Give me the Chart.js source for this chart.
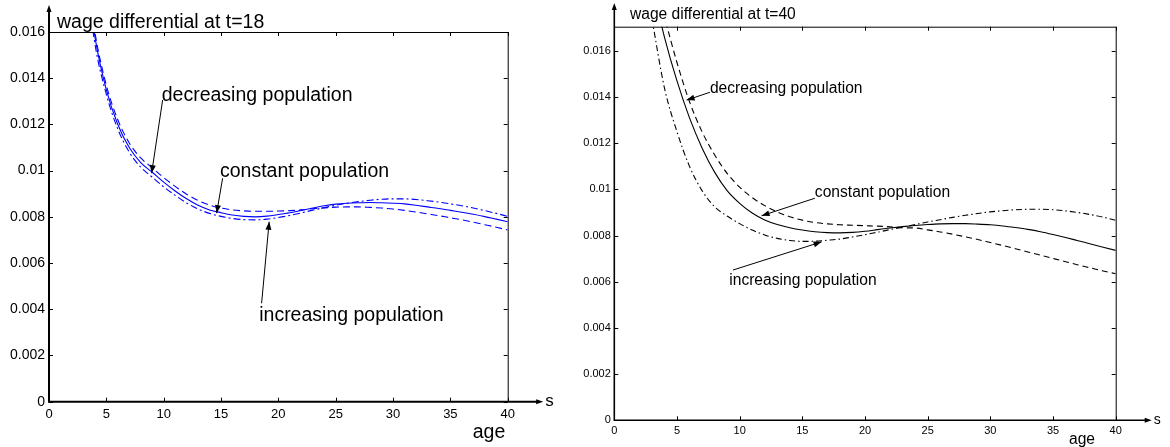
<!DOCTYPE html>
<html>
<head>
<meta charset="utf-8">
<title>wage differential</title>
<script src="https://cdn.jsdelivr.net/npm/chart.js@4.4.1/dist/chart.umd.min.js"></script>
<style>
    html, body { margin: 0; padding: 0; background: #fff; }
    body { width: 1170px; height: 447px; position: relative; overflow: hidden; }
    canvas { position: absolute; top: 0; }
    #leftChart { left: 0; }
    #rightChart { left: 575px; }
</style>
</head>
<body>
<canvas id="leftChart" width="575" height="447"></canvas>
<canvas id="rightChart" width="595" height="447"></canvas>
<script>
const ages = [3, 4, 5, 6, 7, 8, 9, 10, 11, 12, 13, 14, 15, 16, 17, 18, 19, 20, 21, 22,
              23, 24, 25, 26, 27, 28, 29, 30, 31, 32, 33, 34, 35, 36, 37, 38, 39, 40];

const xTicks = [0, 5, 10, 15, 20, 25, 30, 35, 40];
const xTickLabels = ['0', '5', '10', '15', '20', '25', '30', '35', '40'];
const yTicks = [0, 0.002, 0.004, 0.006, 0.008, 0.01, 0.012, 0.014, 0.016];
const yTickLabels = ['0', '0.002', '0.004', '0.006', '0.008', '0.01', '0.012', '0.014', '0.016'];

// wage differential at t=18
const t18Constant = [0.0195, 0.0158, 0.0135, 0.0120, 0.0110, 0.01035, 0.00993, 0.00950, 0.00912, 0.00878,
    0.00850, 0.00830, 0.00818, 0.00808, 0.00802, 0.00800, 0.00803, 0.00810, 0.00818, 0.00828,
    0.00838, 0.00848, 0.00855, 0.00859, 0.00861, 0.00862, 0.00861, 0.00859, 0.00856, 0.00850,
    0.00843, 0.00836, 0.00828, 0.00820, 0.00811, 0.00801, 0.00790, 0.00779];
const t18Decreasing = [0.0197, 0.0160, 0.0137, 0.0122, 0.0112, 0.01055, 0.01012, 0.00970, 0.00932, 0.00898,
    0.00871, 0.00851, 0.00838, 0.00830, 0.00826, 0.00824, 0.00824, 0.00825, 0.00827, 0.00830,
    0.00835, 0.00839, 0.00842, 0.00843, 0.00843, 0.00841, 0.00838, 0.00834, 0.00828, 0.00821,
    0.00813, 0.00805, 0.00796, 0.00787, 0.00777, 0.00766, 0.00755, 0.00743];
const t18Increasing = [0.0193, 0.0155, 0.0133, 0.0118, 0.0108, 0.01015, 0.00972, 0.00930, 0.00893, 0.00860,
    0.00834, 0.00815, 0.00802, 0.00793, 0.00788, 0.00787, 0.00790, 0.00797, 0.00806, 0.00817,
    0.00829, 0.00840, 0.00850, 0.00859, 0.00866, 0.00872, 0.00876, 0.00878, 0.00878, 0.00875,
    0.00870, 0.00864, 0.00856, 0.00848, 0.00838, 0.00827, 0.00815, 0.00802];

// wage differential at t=40
const t40Constant = [0.0189, 0.0166, 0.0147, 0.0131, 0.0118, 0.01075, 0.00995, 0.00940, 0.00898, 0.00868,
    0.00848, 0.00834, 0.00824, 0.00817, 0.00813, 0.00812, 0.00814, 0.00819, 0.00826, 0.00833,
    0.00839, 0.00844, 0.00848, 0.00851, 0.00852, 0.00852, 0.00850, 0.00847, 0.00842, 0.00835,
    0.00827, 0.00817, 0.00805, 0.00792, 0.00778, 0.00764, 0.00750, 0.00736];
const t40Decreasing = [0.0198, 0.0175, 0.0155, 0.0138, 0.0125, 0.0115, 0.0107, 0.0101, 0.00965, 0.00930,
    0.00903, 0.00882, 0.00867, 0.00857, 0.00851, 0.00847, 0.00845, 0.00843, 0.00841, 0.00838,
    0.00834, 0.00833, 0.00825, 0.00816, 0.00806, 0.00795, 0.00783, 0.00770, 0.00757, 0.00743,
    0.00729, 0.00715, 0.00701, 0.00687, 0.00673, 0.00660, 0.00647, 0.00635];
const t40Increasing = [0.0174, 0.0144, 0.0125, 0.0110, 0.00995, 0.00925, 0.00885, 0.00852, 0.00824, 0.00803,
    0.00788, 0.00779, 0.00775, 0.00776, 0.00780, 0.00785, 0.00794, 0.00804, 0.00815, 0.00826,
    0.00837, 0.00848, 0.00859, 0.00869, 0.00879, 0.00888, 0.00896, 0.00903, 0.00908, 0.00912,
    0.00914, 0.00914, 0.00912, 0.00907, 0.00900, 0.00891, 0.00880, 0.00866];

Chart.defaults.font.family = '"Liberation Sans", Arial, sans-serif';
Chart.defaults.color = '#000';

function drawHead(ctx, x1, y1, x2, y2, len, half) {
    const ang = Math.atan2(y2 - y1, x2 - x1);
    ctx.beginPath();
    ctx.moveTo(x2, y2);
    ctx.lineTo(x2 - len * Math.cos(ang) + half * Math.sin(ang), y2 - len * Math.sin(ang) - half * Math.cos(ang));
    ctx.lineTo(x2 - len * Math.cos(ang) - half * Math.sin(ang), y2 - len * Math.sin(ang) + half * Math.cos(ang));
    ctx.closePath();
    ctx.fill();
}

// MATLAB style frame: inward ticks, arrowed axes, title and arrow notes
const framePlugin = {
    id: 'frame',
    afterDraw(chart, args, o) {
        const { ctx, chartArea: a, scales: { x, y } } = chart;
        ctx.save();
        ctx.strokeStyle = '#000';
        ctx.fillStyle = '#000';

        ctx.lineWidth = 1;
        ctx.beginPath();
        ctx.moveTo(a.left, a.top + 0.5);
        ctx.lineTo(a.right + 0.5, a.top + 0.5);
        ctx.lineTo(a.right + 0.5, a.bottom);
        xTicks.forEach(v => {
            const px = Math.round(x.getPixelForValue(v)) + 0.5;
            ctx.moveTo(px, a.bottom);
            ctx.lineTo(px, a.bottom - o.tick);
            ctx.moveTo(px, a.top);
            ctx.lineTo(px, a.top + o.tick);
        });
        yTicks.forEach(v => {
            const py = Math.round(y.getPixelForValue(v)) + 0.5;
            ctx.moveTo(a.left, py);
            ctx.lineTo(a.left + o.tick, py);
            ctx.moveTo(a.right, py);
            ctx.lineTo(a.right - o.tick, py);
        });
        ctx.stroke();

        // axes with arrow heads
        ctx.lineWidth = o.axisWidth;
        ctx.beginPath();
        ctx.moveTo(a.left, o.yTip + 4);
        ctx.lineTo(a.left, a.bottom);
        ctx.lineTo(a.right + o.xTip - 4, a.bottom);
        ctx.stroke();
        drawHead(ctx, a.left, a.top, a.left, o.yTip, 7, 2.5);
        drawHead(ctx, a.right, a.bottom, a.right + o.xTip, a.bottom, 7, 2.5);

        ctx.textBaseline = 'middle';
        ctx.textAlign = 'left';
        ctx.font = o.bigFont + 'px "Liberation Sans", Arial, sans-serif';
        ctx.fillText(o.title, a.left + o.titleDx, a.top - o.titleDy);
        ctx.fillText('age', a.right + o.ageDx, a.bottom + o.ageDy);
        ctx.font = o.sFont + 'px "Liberation Sans", Arial, sans-serif';
        ctx.fillText('s', a.right + o.xTip + 2, a.bottom);

        // arrow notes, placed in data coordinates
        ctx.font = o.bigFont + 'px "Liberation Sans", Arial, sans-serif';
        ctx.lineWidth = 1;
        o.notes.forEach(n => {
            ctx.fillText(n.text, x.getPixelForValue(n.at[0]), y.getPixelForValue(n.at[1]));
            const x1 = x.getPixelForValue(n.from[0]), y1 = y.getPixelForValue(n.from[1]);
            const x2 = x.getPixelForValue(n.to[0]), y2 = y.getPixelForValue(n.to[1]);
            ctx.beginPath();
            ctx.moveTo(x1, y1);
            ctx.lineTo(x2, y2);
            ctx.stroke();
            drawHead(ctx, x1, y1, x2, y2, 8, 3);
        });
        ctx.restore();
    }
};

function series(values) {
    return values.map((v, i) => ({ x: ages[i], y: v }));
}

function buildChart(id, cfg) {
    const style = { borderColor: cfg.color, borderWidth: 1.1, pointRadius: 0, cubicInterpolationMode: 'monotone', fill: false };
    return new Chart(document.getElementById(id), {
        type: 'line',
        data: {
            datasets: [
                { ...style, label: 'constant population', data: series(cfg.constant) },
                { ...style, label: 'decreasing population', data: series(cfg.decreasing), borderDash: cfg.dash },
                { ...style, label: 'increasing population', data: series(cfg.increasing), borderDash: cfg.dashDot }
            ]
        },
        options: {
            responsive: false,
            animation: false,
            devicePixelRatio: 1,
            layout: { padding: { left: 0, top: cfg.top, right: cfg.right, bottom: 0 } },
            plugins: {
                legend: { display: false },
                tooltip: { enabled: false },
                frame: cfg.frame
            },
            scales: {
                x: {
                    type: 'linear', min: 0, max: 40,
                    grid: { display: false, drawTicks: false },
                    border: { display: false },
                    afterBuildTicks: s => { s.ticks = xTicks.map(v => ({ value: v })); },
                    afterFit: s => { s.height = cfg.xHeight; },
                    ticks: {
                        autoSkip: false, maxRotation: 0, padding: cfg.xPad,
                        font: { size: cfg.tickFont },
                        callback: (v, i) => xTickLabels[i]
                    }
                },
                y: {
                    type: 'linear', min: 0, max: cfg.yMax,
                    grid: { display: false, drawTicks: false },
                    border: { display: false },
                    afterBuildTicks: s => { s.ticks = yTicks.map(v => ({ value: v })); },
                    afterFit: s => { s.width = cfg.yWidth; },
                    ticks: {
                        autoSkip: false, padding: cfg.yPad,
                        font: { size: cfg.yTickFont },
                        callback: (v, i) => yTickLabels[i]
                    }
                }
            }
        },
        plugins: [framePlugin]
    });
}

buildChart('leftChart', {
    constant: t18Constant, decreasing: t18Decreasing, increasing: t18Increasing,
    color: '#0000ff', dash: [7, 4], dashDot: [7, 3, 2, 3],
    yMax: 0.016, top: 32, right: 67.3, xHeight: 45.3, yWidth: 49,
    tickFont: 13, yTickFont: 14, xPad: 5, yPad: 4,
    frame: {
        title: 'wage differential at t=18', bigFont: 19.5, sFont: 17,
        tick: 4, axisWidth: 2, yTip: 5, xTip: 35.5,
        titleDx: 8, titleDy: 9, ageDx: -35, ageDy: 31,
        notes: [
            { text: 'decreasing population', at: [9.83, 0.01323], from: [9.91, 0.01306], to: [8.95, 0.00989] },
            { text: 'constant population', at: [14.91, 0.00996], from: [15.14, 0.00967], to: [14.62, 0.00816] },
            { text: 'increasing population', at: [18.33, 0.00372], from: [18.54, 0.00426], to: [19.2, 0.00779] }
        ]
    }
});

buildChart('rightChart', {
    constant: t40Constant, decreasing: t40Decreasing, increasing: t40Increasing,
    color: '#000', dash: [6, 4], dashDot: [6, 3, 1.5, 3],
    yMax: 0.01705, top: 26.7, right: 54.3, xHeight: 26.7, yWidth: 39.3,
    tickFont: 11, yTickFont: 11, xPad: 4, yPad: 3.5,
    frame: {
        title: 'wage differential at t=40', bigFont: 15.6, sFont: 14,
        tick: 4, axisWidth: 1.6, yTip: 3, xTip: 36,
        titleDx: 15.7, titleDy: 11.7, ageDx: -46.7, ageDy: 19.7,
        notes: [
            { text: 'decreasing population', at: [7.63, 0.01437], from: [7.63, 0.01421], to: [5.77, 0.01387] },
            { text: 'constant population', at: [16.0, 0.00985], from: [16.0, 0.00962], to: [11.75, 0.00886] },
            { text: 'increasing population', at: [9.17, 0.00604], from: [9.47, 0.00651], to: [16.54, 0.00773] }
        ]
    }
});
</script>
</body>
</html>
